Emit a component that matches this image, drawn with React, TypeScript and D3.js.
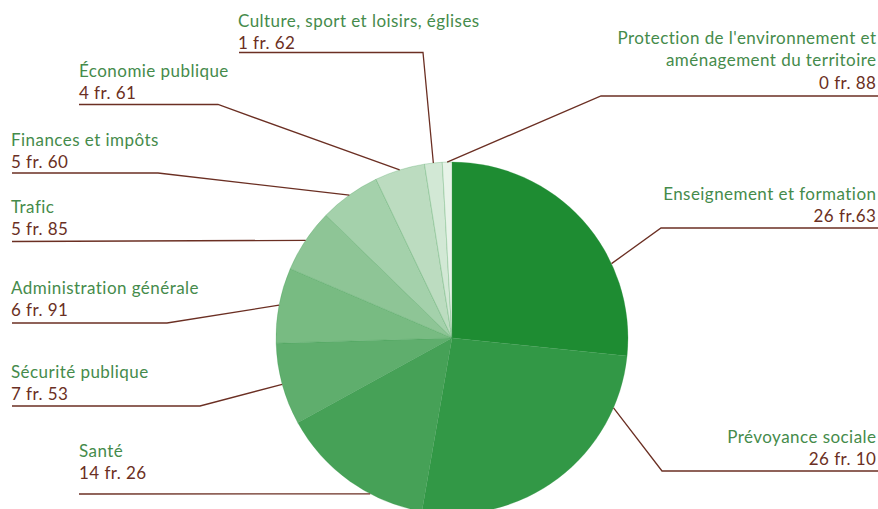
import React, { useEffect } from "react";
import * as d3 from "d3";

const categories = [
  "Enseignement et formation",
  "Prévoyance sociale",
  "Santé",
  "Sécurité publique",
  "Administration générale",
  "Trafic",
  "Finances et impôts",
  "Économie publique",
  "Culture, sport et loisirs, églises",
  "Protection de l'environnement et aménagement du territoire",
];
const values = [26.63, 26.1, 14.26, 7.53, 6.91, 5.85, 5.6, 4.61, 1.62, 0.88];
const valueLabels = [
  "26 fr.63",
  "26 fr. 10",
  "14 fr. 26",
  "7 fr. 53",
  "6 fr. 91",
  "5 fr. 85",
  "5 fr. 60",
  "4 fr. 61",
  "1 fr. 62",
  "0 fr. 88",
];
const labelLines = [
  ["Enseignement et formation"],
  ["Prévoyance sociale"],
  ["Santé"],
  ["Sécurité publique"],
  ["Administration générale"],
  ["Trafic"],
  ["Finances et impôts"],
  ["Économie publique"],
  ["Culture, sport et loisirs, églises"],
  ["Protection de l'environnement et", "aménagement du territoire"],
];

// colours
const sliceColors = [
  "#1e8c32",
  "#329846",
  "#46a157",
  "#5fae6d",
  "#78bb82",
  "#8ec596",
  "#a4d1ab",
  "#bcdcc0",
  "#d2e8d5",
  "#e7f3e8",
];

// layout: label anchor (x, first baseline), alignment, underline y, elbow x, anchor angle override (deg)
const layout = [
  { x: 876, y: 200, anchor: "end", lineY: 228, lineX0: 878, elbowX: 661, angle: 65 },
  { x: 876, y: 443, anchor: "end", lineY: 471, lineX0: 878, elbowX: 662, angle: 113.4 },
  { x: 79, y: 457, anchor: "start", lineY: 494, lineX0: 79, elbowX: null, angle: 207.7 },
  { x: 11, y: 378, anchor: "start", lineY: 406, lineX0: 12, elbowX: 200, angle: null },
  { x: 11, y: 294, anchor: "start", lineY: 323, lineX0: 12, elbowX: 167, angle: null },
  { x: 11, y: 213, anchor: "start", lineY: 241.5, lineX0: 12, elbowX: null, angle: null },
  { x: 11, y: 146, anchor: "start", lineY: 173, lineX0: 12, elbowX: 158, angle: null },
  { x: 79, y: 77, anchor: "start", lineY: 104.5, lineX0: 79, elbowX: 218, angle: null },
  { x: 238, y: 27, anchor: "start", lineY: 52.5, lineX0: 239, elbowX: 423, angle: null },
  { x: 876, y: 44, anchor: "end", lineY: 96, lineX0: 878, elbowX: 601, angle: null },
];

const W = 878;
const H = 509;
const CX = 452;
const CY = 338;
const R = 176;
const LABEL_COLOR = "#458b4b";
const VALUE_COLOR = "#6b2f23";
const FONT = "Lato, 'Open Sans', sans-serif";
const FONT_SIZE = 17;
const LETTER_SP = 0.45;
const LINE_H = 22.3;

export default function App() {
  useEffect(() => {
    document.body.style.margin = "0";
  }, []);

  const pie = d3
    .pie<number>()
    .sort(null)
    .value((d) => d);
  const arcs = pie(values);
  const arc = d3.arc<d3.PieArcDatum<number>>().innerRadius(0).outerRadius(R);

  const pointAt = (angleRad: number) => [
    CX + R * Math.sin(angleRad),
    CY - R * Math.cos(angleRad),
  ];

  return (
    <svg width={W} height={H} style={{ display: "block" }} fontFamily={FONT}>
      <g transform={`translate(${CX},${CY})`}>
        {arcs.map((a, i) => (
          <path
            key={i}
            d={arc(a) || ""}
            fill={sliceColors[i]}
            stroke="#3b9a4d"
            strokeOpacity={0.45}
            strokeWidth={0.6}
          />
        ))}
      </g>
      {arcs.map((a, i) => {
        const L = layout[i];
        const ang =
          L.angle != null ? (L.angle * Math.PI) / 180 : (a.startAngle + a.endAngle) / 2;
        const [px, py] = pointAt(ang);
        const pts: [number, number][] = [[L.lineX0, L.lineY]];
        if (L.elbowX != null) pts.push([L.elbowX, L.lineY]);
        pts.push([px, py]);
        const line = d3.line()(pts) || "";
        const lines = labelLines[i];
        const dx = L.anchor === "end" ? LETTER_SP : 0;
        return (
          <g key={i}>
            <path d={line} fill="none" stroke={VALUE_COLOR} strokeWidth={1.3} />
            {lines.map((t, j) => (
              <text
                key={j}
                x={L.x + dx}
                y={L.y + j * LINE_H}
                textAnchor={L.anchor}
                fill={LABEL_COLOR}
                fontSize={FONT_SIZE}
                letterSpacing={LETTER_SP}
              >
                {t}
              </text>
            ))}
            <text
              x={L.x + dx}
              y={L.y + lines.length * LINE_H}
              textAnchor={L.anchor}
              fill={VALUE_COLOR}
              fontSize={FONT_SIZE}
              letterSpacing={LETTER_SP}
            >
              {valueLabels[i]}
            </text>
          </g>
        );
      })}
    </svg>
  );
}
